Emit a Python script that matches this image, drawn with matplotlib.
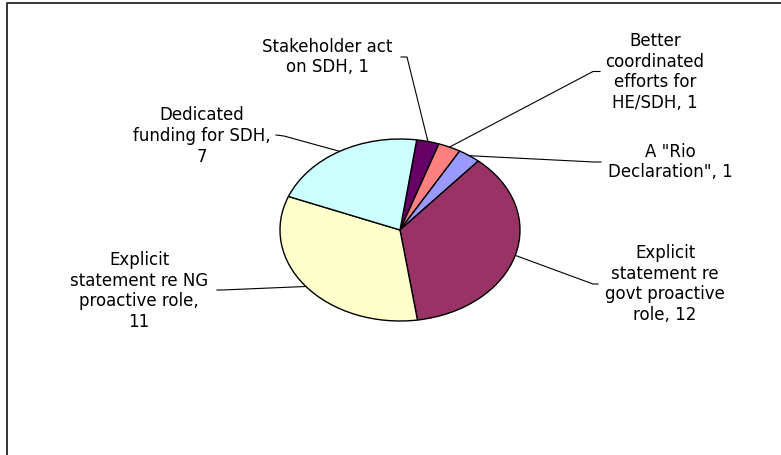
import numpy as np
import matplotlib.pyplot as plt

# ---- data ----
categories = [
    "Stakeholder act\non SDH",
    "Better\ncoordinated\nefforts for\nHE/SDH",
    'A "Rio\nDeclaration"',
    "Explicit\nstatement re\ngovt proactive\nrole",
    "Explicit\nstatement re NG\nproactive role",
    "Dedicated\nfunding for SDH",
]
values = [1, 1, 1, 12, 11, 7]
separators = [", ", ", ", ", ", ", ", ",\n", ",\n"]
colors = ["#660066", "#FF8080", "#9999FF", "#993366", "#FFFFCC", "#CCFFFF"]

# ---- layout (pixels in the 781x456 image) ----
W, H = 781, 456
CX, CY, RX, RY = 400, 231, 120, 91      # stretched pie -> ellipse
label_pos = [(327, 57), (655, 72), (670, 162), (665, 284), (139, 291), (202, 136)]
leader_elbow = [(407, 58), (593, 72.5), (594, 163), (593, 285), (222, 291), (284, 137)]
leader_end = [(401, 58), (600, 72.5), (601, 163), (598, 285), (217, 291), (276, 136)]


def px(x, y):
    return ((x - CX) / RX, (CY - y) / RY)


fig = plt.figure(figsize=(W / 100, H / 100), dpi=100)
fig.patch.set_facecolor("white")
ax = fig.add_axes([0, 0, 1, 1])

wedges, _ = ax.pie(values, colors=colors, startangle=82, counterclock=False,
                   wedgeprops=dict(edgecolor="black", linewidth=1.0))
ax.set_aspect("auto")
ax.set_xlim(-CX / RX, (W - CX) / RX)
ax.set_ylim((CY - H) / RY, CY / RY)
ax.axis("off")

for w, cat, sep, v, tp, el, en in zip(wedges, categories, separators, values,
                                      label_pos, leader_elbow, leader_end):
    mid = np.deg2rad((w.theta1 + w.theta2) / 2)
    p0 = (np.cos(mid), np.sin(mid))
    p1 = px(*el)
    p2 = px(*en)
    ax.plot([p0[0], p1[0], p2[0]], [p0[1], p1[1], p2[1]], color="black", lw=0.8)
    ax.text(*px(*tp), f"{cat}{sep}{v}", ha="center", va="center", multialignment="center",
            fontsize=12, linespacing=1.2, color="black")

# chart area border (top and left edges only visible)
fig.add_artist(plt.Line2D([7.5 / W, 7.5 / W, 1], [0, 1 - 3.8 / H, 1 - 3.8 / H],
                          transform=fig.transFigure, color="#333333", lw=1.4))

fig.savefig("out.png", dpi=100)
